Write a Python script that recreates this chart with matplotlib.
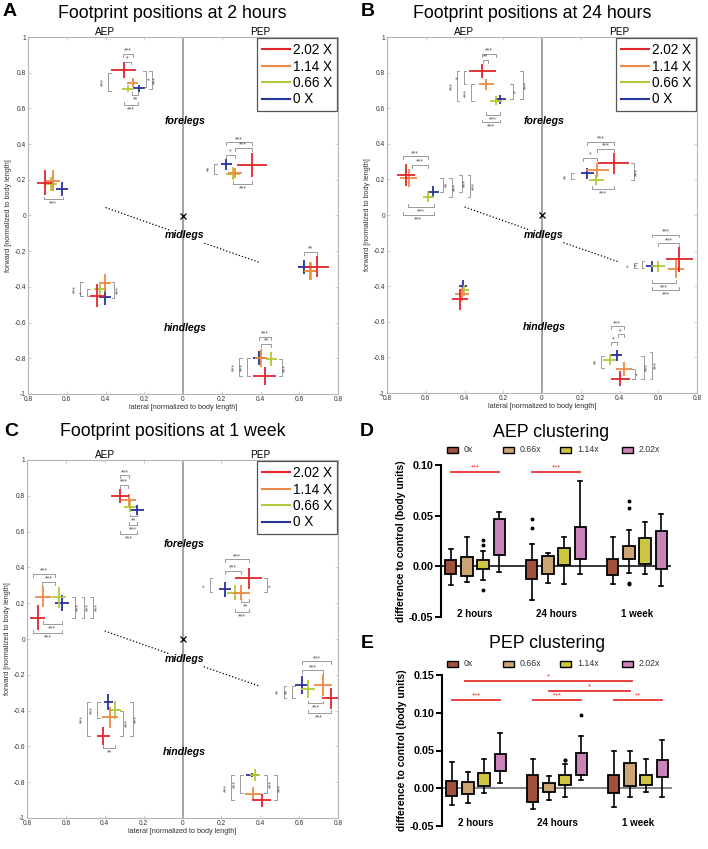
import numpy as np
import matplotlib
matplotlib.use('Agg')
import matplotlib.pyplot as plt
from matplotlib.ticker import FuncFormatter, MultipleLocator
from matplotlib.lines import Line2D
from matplotlib.patches import Rectangle

plt.rcParams['font.family'] = ['Liberation Sans', 'DejaVu Sans']

# ---- footprint data: rows = fore AEP, fore PEP, mid AEP, mid PEP, hind AEP, hind PEP
# ---- cols = 2.02 X, 1.14 X, 0.66 X, 0 X  (AEP lateral plotted as negative x)
DOSES = ['2.02 X', '1.14 X', '0.66 X', '0 X']
DOSE_COLORS = ['#e3252b', '#ec8a45', '#b4c839', '#27349a']

A_X = [[-0.306, -0.260, -0.284, -0.227],
       [0.356, 0.267, 0.258, 0.224],
       [-0.714, -0.671, -0.680, -0.623],
       [0.692, 0.657, 0.663, 0.623],
       [-0.442, -0.404, -0.430, -0.401],
       [0.422, 0.404, 0.456, 0.392]]
A_Y = [[0.813, 0.743, 0.710, 0.713],
       [0.283, 0.238, 0.234, 0.287],
       [0.183, 0.196, 0.177, 0.147],
       [-0.287, -0.309, -0.309, -0.287],
       [-0.450, -0.376, -0.413, -0.458],
       [-0.901, -0.799, -0.805, -0.799]]
A_XERR = [[0.065, 0.030, 0.030, 0.030],
          [0.075, 0.035, 0.035, 0.030],
          [0.040, 0.035, 0.030, 0.030],
          [0.060, 0.030, 0.030, 0.030],
          [0.040, 0.030, 0.030, 0.030],
          [0.060, 0.030, 0.030, 0.030]]
A_YERR = [[0.045, 0.025, 0.020, 0.020],
          [0.065, 0.030, 0.035, 0.030],
          [0.070, 0.060, 0.040, 0.040],
          [0.060, 0.050, 0.050, 0.040],
          [0.065, 0.050, 0.030, 0.045],
          [0.050, 0.050, 0.040, 0.040]]

B_X = [[-0.309, -0.287, -0.239, -0.215],
       [0.371, 0.285, 0.280, 0.234],
       [-0.701, -0.689, -0.586, -0.561],
       [0.708, 0.691, 0.598, 0.568],
       [-0.424, -0.412, -0.402, -0.407],
       [0.405, 0.422, 0.349, 0.385]]
B_Y = [[0.809, 0.735, 0.641, 0.649],
       [0.290, 0.252, 0.196, 0.234],
       [0.224, 0.209, 0.103, 0.131],
       [-0.248, -0.304, -0.289, -0.289],
       [-0.474, -0.443, -0.424, -0.400],
       [-0.919, -0.867, -0.813, -0.789]]
B_XERR = [[0.070, 0.040, 0.030, 0.030],
          [0.080, 0.060, 0.040, 0.035],
          [0.045, 0.045, 0.030, 0.030],
          [0.070, 0.040, 0.035, 0.030],
          [0.040, 0.035, 0.025, 0.020],
          [0.050, 0.040, 0.035, 0.030]]
B_YERR = [[0.040, 0.030, 0.025, 0.025],
          [0.060, 0.040, 0.030, 0.030],
          [0.060, 0.050, 0.030, 0.030],
          [0.070, 0.050, 0.030, 0.030],
          [0.060, 0.040, 0.030, 0.035],
          [0.040, 0.040, 0.030, 0.030]]

C_X = [[-0.321, -0.277, -0.269, -0.234],
       [0.341, 0.303, 0.269, 0.220],
       [-0.745, -0.719, -0.636, -0.619],
       [0.763, 0.723, 0.645, 0.615],
       [-0.407, -0.373, -0.347, -0.381],
       [0.407, 0.364, 0.373, 0.359]]
C_Y = [[0.799, 0.777, 0.739, 0.721],
       [0.339, 0.259, 0.259, 0.277],
       [0.119, 0.236, 0.233, 0.203],
       [-0.332, -0.257, -0.280, -0.257],
       [-0.541, -0.438, -0.397, -0.351],
       [-0.901, -0.864, -0.761, -0.761]]
C_XERR = [[0.045, 0.040, 0.030, 0.035],
          [0.070, 0.045, 0.040, 0.030],
          [0.040, 0.040, 0.035, 0.035],
          [0.045, 0.045, 0.035, 0.035],
          [0.035, 0.040, 0.030, 0.025],
          [0.050, 0.040, 0.025, 0.030]]
C_YERR = [[0.040, 0.035, 0.030, 0.030],
          [0.060, 0.040, 0.040, 0.040],
          [0.070, 0.060, 0.060, 0.045],
          [0.060, 0.060, 0.050, 0.050],
          [0.050, 0.060, 0.050, 0.045],
          [0.035, 0.035, 0.035, 0.012]]

# significance brackets: ('h', y, x1, x2, stars, side) / ('v', x, y1, y2, stars, side)
A_BR = [('h', 0.905, -0.31, -0.26, '***', 'up'), ('h', 0.862, -0.305, -0.27, '*', 'up'),
        ('v', -0.385, 0.80, 0.70, '***', 'left'), ('v', -0.19, 0.81, 0.72, '*', 'right'),
        ('v', -0.16, 0.81, 0.71, '***', 'right'), ('h', 0.675, -0.265, -0.23, '**', 'down'),
        ('h', 0.62, -0.305, -0.23, '***', 'down'),
        ('h', 0.41, 0.224, 0.356, '***', 'up'), ('h', 0.38, 0.267, 0.356, '***', 'up'),
        ('h', 0.34, 0.224, 0.267, '*', 'up'), ('v', 0.16, 0.29, 0.235, '**', 'left'),
        ('h', 0.175, 0.258, 0.356, '***', 'down'),
        ('h', 0.09, -0.72, -0.62, '***', 'down'),
        ('h', -0.205, 0.623, 0.692, '**', 'up'),
        ('v', -0.53, -0.375, -0.45, '***', 'left'), ('v', -0.495, -0.41, -0.45, '*', 'left'),
        ('v', -0.355, -0.375, -0.46, '***', 'right'),
        ('h', -0.68, 0.392, 0.456, '***', 'up'), ('h', -0.72, 0.404, 0.456, '**', 'up'),
        ('v', 0.29, -0.80, -0.90, '***', 'left'), ('v', 0.33, -0.80, -0.90, '***', 'left'),
        ('v', 0.51, -0.805, -0.90, '***', 'right')]
B_BR = [('h', 0.905, -0.31, -0.24, '***', 'up'), ('h', 0.87, -0.305, -0.28, '**', 'up'),
        ('v', -0.44, 0.81, 0.64, '***', 'left'), ('v', -0.405, 0.81, 0.735, '*', 'left'),
        ('v', -0.365, 0.735, 0.64, '***', 'left'), ('v', -0.15, 0.735, 0.65, '*', 'right'),
        ('v', -0.10, 0.81, 0.65, '***', 'right'),
        ('h', 0.56, -0.29, -0.215, '***', 'down'), ('h', 0.52, -0.31, -0.215, '***', 'down'),
        ('h', 0.33, -0.72, -0.59, '***', 'up'), ('h', 0.28, -0.67, -0.59, '***', 'up'),
        ('v', -0.51, 0.21, 0.13, '**', 'right'), ('v', -0.465, 0.21, 0.10, '***', 'right'),
        ('v', -0.415, 0.225, 0.13, '***', 'right'), ('v', -0.37, 0.225, 0.10, '***', 'right'),
        ('h', 0.045, -0.69, -0.56, '***', 'down'), ('h', 0.0, -0.72, -0.56, '***', 'down'),
        ('h', 0.41, 0.234, 0.371, '***', 'up'), ('h', 0.37, 0.285, 0.371, '***', 'up'),
        ('h', 0.32, 0.21, 0.285, '*', 'up'), ('v', 0.15, 0.235, 0.20, '**', 'left'),
        ('v', 0.475, 0.29, 0.196, '***', 'right'), ('h', 0.145, 0.26, 0.371, '***', 'down'),
        ('h', -0.11, 0.568, 0.708, '***', 'up'), ('h', -0.16, 0.598, 0.708, '***', 'up'),
        ('v', 0.475, -0.27, -0.30, '*', 'left'), ('v', 0.515, -0.26, -0.30, '*', 'left'),
        ('h', -0.38, 0.568, 0.691, '***', 'down'), ('h', -0.42, 0.568, 0.708, '***', 'down'),
        ('h', -0.625, 0.354, 0.422, '***', 'up'), ('h', -0.67, 0.39, 0.422, '*', 'up'),
        ('h', -0.715, 0.354, 0.385, '*', 'up'), ('v', 0.305, -0.79, -0.86, '**', 'left'),
        ('v', 0.48, -0.865, -0.92, '*', 'right'), ('v', 0.525, -0.79, -0.92, '***', 'right'),
        ('v', 0.57, -0.77, -0.92, '***', 'right')]
C_BR = [('h', 0.915, -0.321, -0.277, '***', 'up'), ('h', 0.86, -0.321, -0.28, '***', 'up'),
        ('h', 0.685, -0.269, -0.234, '**', 'down'), ('h', 0.635, -0.277, -0.234, '***', 'down'),
        ('h', 0.585, -0.321, -0.234, '***', 'down'),
        ('h', 0.365, -0.77, -0.655, '***', 'up'), ('h', 0.32, -0.725, -0.655, '***', 'up'),
        ('v', -0.555, 0.235, 0.12, '***', 'right'), ('v', -0.505, 0.235, 0.12, '***', 'right'),
        ('v', -0.46, 0.235, 0.12, '***', 'right'),
        ('h', 0.085, -0.72, -0.62, '***', 'down'), ('h', 0.035, -0.77, -0.62, '***', 'down'),
        ('h', 0.445, 0.22, 0.341, '***', 'up'), ('h', 0.38, 0.22, 0.303, '***', 'up'),
        ('v', 0.14, 0.34, 0.26, '*', 'left'), ('v', 0.435, 0.34, 0.26, '*', 'right'),
        ('h', 0.205, 0.303, 0.341, '**', 'down'), ('h', 0.15, 0.269, 0.341, '***', 'down'),
        ('h', -0.125, 0.615, 0.763, '***', 'up'), ('h', -0.175, 0.615, 0.723, '***', 'up'),
        ('v', 0.52, -0.26, -0.33, '**', 'left'), ('v', 0.565, -0.26, -0.33, '**', 'left'),
        ('h', -0.36, 0.645, 0.723, '***', 'down'), ('h', -0.415, 0.645, 0.763, '***', 'down'),
        ('v', -0.49, -0.35, -0.54, '***', 'left'), ('v', -0.44, -0.35, -0.44, '***', 'left'),
        ('v', -0.305, -0.40, -0.54, '***', 'right'), ('v', -0.255, -0.35, -0.54, '***', 'right'),
        ('h', -0.61, -0.407, -0.347, '**', 'down'),
        ('v', 0.25, -0.76, -0.90, '***', 'left'), ('v', 0.295, -0.76, -0.86, '***', 'left'),
        ('v', 0.435, -0.76, -0.86, '***', 'right'), ('v', 0.485, -0.76, -0.90, '***', 'right')]

# dotted body axis guide (two pieces around "midlegs")
GUIDE_X = [[-0.40, -0.07], [0.11, 0.40]]
GUIDE_Y = [[0.045, -0.082], [-0.155, -0.265]]
LEG_LABELS = ['forelegs', 'midlegs', 'hindlegs']
LEG_LABEL_Y = [0.53, -0.11, -0.63]

# ---- clustering box plots: 2 hours, 24 hours, 1 week x (0x, 0.66x, 1.14x, 2.02x)
TIMES = ['2 hours', '24 hours', '1 week']
GROUPS = ['0x', '0.66x', '1.14x', '2.02x']
BOX_COLORS = ['#a0523d', '#cda473', '#cbc53f', '#c985b9']

D_WLO = [-0.018, -0.015, -0.013, -0.0056, -0.033, -0.0165, -0.017, -0.0079, -0.0178, -0.0063, -0.0073, -0.0195]
D_Q1 = [-0.008, -0.0096, -0.0023, 0.011, -0.0129, -0.0073, 0.0017, 0.0076, -0.0089, 0.0069, 0.0026, -0.0023]
D_MED = [-0.001, 0.0007, 0.0026, 0.027, -0.0046, 0.0033, 0.0086, 0.019, 0.001, 0.0125, 0.0132, 0.0208]
D_Q3 = [0.0066, 0.0092, 0.006, 0.0465, 0.006, 0.0102, 0.018, 0.039, 0.0076, 0.0205, 0.028, 0.0347]
D_WHI = [0.017, 0.029, 0.015, 0.054, 0.0224, 0.013, 0.029, 0.084, 0.029, 0.036, 0.044, 0.052]
D_FLIERS = [[], [], [0.021, 0.026, -0.023], [], [0.038, 0.047], [], [], [],
            [], [0.058, 0.064, -0.016, -0.017], [], []]
D_SIG = [(0, 3, 0.0927, '***'), (5, 8, 0.0927, '***')]

E_WLO = [-0.0216, -0.0194, -0.0062, 0.007, -0.0269, -0.015, -0.0119, 0.0115, -0.0251, -0.0115, -0.0053, -0.0115]
E_Q1 = [-0.0097, -0.0079, 0.0026, 0.0225, -0.018, -0.0044, 0.004, 0.0172, -0.0066, 0.0035, 0.0048, 0.0145]
E_MED = [-0.0035, 0.0026, 0.0079, 0.0344, 0.0, -0.0009, 0.0115, 0.0335, 0.0062, 0.0159, 0.007, 0.0269]
E_Q3 = [0.0101, 0.0079, 0.0203, 0.0458, 0.018, 0.007, 0.0172, 0.0467, 0.018, 0.0335, 0.0176, 0.0379]
E_WHI = [0.0348, 0.0216, 0.039, 0.0727, 0.039, 0.0167, 0.032, 0.0696, 0.0489, 0.0489, 0.0388, 0.0634]
E_FLIERS = [[], [], [], [], [], [], [0.038, 0.038], [0.0974], [], [], [], []]
E_SIG = [(0.8, 11.1, 0.1414, '*'), (6.0, 11.0, 0.129, '*'), (0, 3, 0.1163, '***'),
         (5, 8, 0.1163, '***'), (10, 13, 0.1163, '**')]

W, H = 708, 849


def fx(p):
    return p / W


def fy(p):
    return 1 - p / H


fig = plt.figure(figsize=(W / 100, H / 100), dpi=100)


def bracket(ax, b):
    kind, pos, a, c, label, side = b
    col = '#8a8a8a'
    if kind == 'h':
        t = -0.016 if side == 'up' else 0.016
        ax.plot([a, a, c, c], [pos + t, pos, pos, pos + t], color=col, lw=0.6, zorder=2)
        if side == 'up':
            ax.text((a + c) / 2, pos - 0.004, label, ha='center', va='bottom', fontsize=5, color='#555555')
        else:
            ax.text((a + c) / 2, pos - 0.008, label, ha='center', va='top', fontsize=5, color='#555555')
    else:
        t = 0.014 if side == 'left' else -0.014
        ax.plot([pos + t, pos, pos, pos + t], [a, a, c, c], color=col, lw=0.6, zorder=2)
        if side == 'left':
            ax.text(pos - 0.004, (a + c) / 2, label, rotation=90, ha='right', va='center', fontsize=5, color='#555555')
        else:
            ax.text(pos + 0.004, (a + c) / 2, label, rotation=90, ha='left', va='center', fontsize=5, color='#555555')


def footprint(rect, X, Y, XE, YE, BR):
    ax = fig.add_axes(rect)
    X, Y, XE, YE = map(np.array, (X, Y, XE, YE))
    ax.axvline(0, color='#9a9a9a', lw=1.3, zorder=1)
    for gx, gy in zip(GUIDE_X, GUIDE_Y):
        ax.plot(gx, gy, ':', color='k', lw=0.9)
    ax.plot(0, 0, 'x', color='k', ms=5, mew=0.9)
    for j in reversed(range(4)):
        ax.errorbar(X[:, j], Y[:, j], xerr=XE[:, j], yerr=YE[:, j], fmt='none',
                    ecolor=DOSE_COLORS[j], elinewidth=1.3, capsize=0, zorder=3)
    for lab, ly in zip(LEG_LABELS, LEG_LABEL_Y):
        ax.text(0.01, ly, lab, ha='center', va='center', fontsize=7.6,
                fontweight='bold', fontstyle='italic', zorder=4)
    for b in BR:
        bracket(ax, b)
    ax.text(-0.4, 1.03, 'AEP', ha='center', va='center', fontsize=7.2, clip_on=False)
    ax.text(0.4, 1.03, 'PEP', ha='center', va='center', fontsize=7.2, clip_on=False)
    handles = [Line2D([], [], color=c, lw=1.5) for c in DOSE_COLORS]
    leg = ax.legend(handles, DOSES, loc='upper right', fontsize=9.8, handlelength=2.1,
                    handletextpad=0.15, labelspacing=0.18, borderpad=0.35,
                    borderaxespad=0.1, fancybox=False, framealpha=1)
    leg.get_frame().set_edgecolor('#555555')
    leg.get_frame().set_linewidth(0.9)
    ax.set_xlim(-0.8, 0.8)
    ax.set_ylim(-1, 1)
    ax.xaxis.set_major_locator(MultipleLocator(0.2))
    ax.yaxis.set_major_locator(MultipleLocator(0.2))
    ax.xaxis.set_major_formatter(FuncFormatter(lambda v, p: f'{abs(round(v, 2)):g}'))
    ax.yaxis.set_major_formatter(FuncFormatter(lambda v, p: f'{round(v, 2) + 0:g}'))
    ax.tick_params(direction='in', length=2.5, width=0.5, labelsize=4.8, colors='#bbbbbb',
                   labelcolor='#333333', top=True, right=True, pad=1.5)
    for s in ax.spines.values():
        s.set_color('#b5b5b5')
        s.set_linewidth(0.8)
    ax.set_xlabel('lateral [normalized to body length]', fontsize=5.2, labelpad=1, color='#333333')
    ax.set_ylabel('forward [normalized to body length]', fontsize=5.2, labelpad=2, color='#333333')
    return ax


footprint([fx(28), fy(394), 310 / W, 357 / H], A_X, A_Y, A_XERR, A_YERR, A_BR)
footprint([fx(387), fy(393), 310 / W, 356 / H], B_X, B_Y, B_XERR, B_YERR, B_BR)
footprint([fx(27), fy(818), 311 / W, 358 / H], C_X, C_Y, C_XERR, C_YERR, C_BR)

POS = [g * 5 + j for g in range(3) for j in range(4)]


def clustering(rect, WLO, Q1, MED, Q3, WHI, FL, SIG, ymin, ymax, zero_col):
    ax = fig.add_axes(rect)
    stats = [dict(whislo=WLO[i], q1=Q1[i], med=MED[i], q3=Q3[i], whishi=WHI[i], fliers=FL[i])
             for i in range(12)]
    ax.axhline(0, color=zero_col, lw=1.1, zorder=1)
    bp = ax.bxp(stats, positions=POS, widths=0.7, patch_artist=True, capwidths=0.25,
                boxprops=dict(lw=1.3, edgecolor='k'), medianprops=dict(color='k', lw=1.3),
                whiskerprops=dict(lw=1.2), capprops=dict(lw=1.2),
                flierprops=dict(marker='o', markersize=1.8, markerfacecolor='k',
                                markeredgecolor='k'))
    for i, b in enumerate(bp['boxes']):
        b.set_facecolor(BOX_COLORS[i % 4])
        b.set_zorder(3)
    for x0, x1, y, lab in SIG:
        ax.plot([x0, x1], [y, y], color='#e8322e', lw=1.3)
        ax.text((x0 + x1) / 2, y + (ymax - ymin) * 0.005, lab, ha='center', va='bottom',
                fontsize=5.5, color='#e8322e')
    for g, t in enumerate(TIMES):
        ax.text(g * 5 + 1.5, 0.02, t, transform=ax.get_xaxis_transform(), ha='center',
                va='center', fontsize=7, fontweight='bold')
    ax.set_xlim(-0.6, 13.6)
    ax.set_ylim(ymin, ymax)
    ax.yaxis.set_major_locator(MultipleLocator(0.05))
    ax.yaxis.set_major_formatter(FuncFormatter(lambda v, p: f'{v:.2f}'))
    for s in ['top', 'right', 'bottom']:
        ax.spines[s].set_visible(False)
    ax.spines['left'].set_linewidth(1.5)
    ax.set_xticks([])
    ax.tick_params(axis='y', direction='out', length=4, width=1.4, labelsize=7.8, pad=1.5)
    for lab in ax.get_yticklabels():
        lab.set_fontweight('bold')
    ax.set_ylabel('difference to control (body units)', fontsize=7.4, fontweight='bold', labelpad=2)
    return ax


axD = clustering([fx(441), fy(617), 230 / W, 152 / H], D_WLO, D_Q1, D_MED, D_Q3, D_WHI,
                 D_FLIERS, D_SIG, -0.05, 0.10, 'k')
axE = clustering([fx(442), fy(826), 230 / W, 151 / H], E_WLO, E_Q1, E_MED, E_Q3, E_WHI,
                 E_FLIERS, E_SIG, -0.05, 0.15, '#666666')

# box legends above D and E
LEG_PX = [447, 503, 560, 622]
for top in [450, 664]:
    for px, lab, col in zip(LEG_PX, GROUPS, BOX_COLORS):
        fig.patches.append(Rectangle((fx(px), fy(top + 3)), 11 / W, 6 / H, transform=fig.transFigure,
                                     facecolor=col, edgecolor='k', lw=1.0))
        fig.text(fx(px + 17), fy(top), lab, fontsize=6.3, va='center', ha='left', color='#333333')

# titles and panel letters
for x, y, t in [(172, 13, 'Footprint positions at 2 hours'), (532, 13, 'Footprint positions at 24 hours'),
                (173, 432, 'Footprint positions at 1 week'), (551, 433, 'AEP clustering'),
                (547, 643, 'PEP clustering')]:
    fig.text(fx(x), fy(y), t, fontsize=12.8, ha='center', va='center')
for x, y, t in [(10, 12, 'A'), (368, 12, 'B'), (11, 432, 'C'), (367, 432, 'D'), (367, 643, 'E')]:
    fig.text(fx(x), fy(y), t, fontsize=14, fontweight='bold', ha='center', va='center')

fig.savefig('out.png', dpi=100)
